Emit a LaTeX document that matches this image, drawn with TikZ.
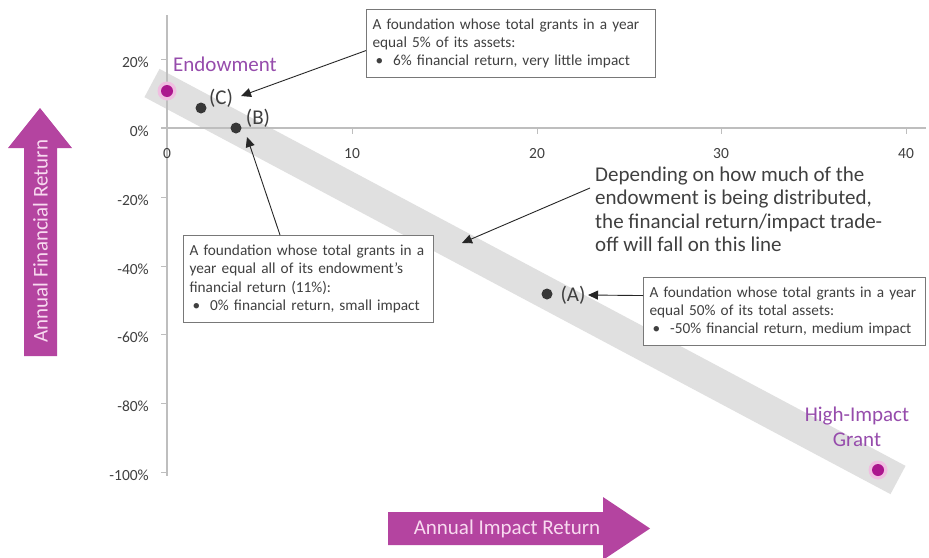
\documentclass[tikz,border=0pt]{standalone}
\usepackage{fontspec}
\setmainfont{Carlito}
\usetikzlibrary{arrows.meta}
\definecolor{mag}{RGB}{180,68,160}
\definecolor{pinktxt}{RGB}{248,218,240}
\definecolor{purp}{RGB}{150,76,172}
\definecolor{dotmag}{RGB}{172,22,142}
\definecolor{halo}{RGB}{240,190,225}
\definecolor{txt}{RGB}{64,64,64}
\definecolor{axisc}{RGB}{190,190,190}
\definecolor{bandc}{RGB}{224,224,224}
\definecolor{dotd}{RGB}{55,55,55}
\definecolor{boxc}{RGB}{120,120,120}
\begin{document}
\begin{tikzpicture}[x=1pt,y=-1pt,
  tick/.style={font=\fontsize{15.5}{18}\selectfont, text=txt, inner sep=0pt},
  infobox/.style={draw=boxc, line width=1.1pt, fill=white, text=txt, align=left, anchor=north west,
    font=\fontsize{15.3}{18.3}\selectfont, inner xsep=6pt, inner ysep=3pt},
  dot/.style={circle, fill=dotd, inner sep=0pt, minimum size=11pt},
  magdot/.style={circle, fill=dotmag, inner sep=0pt, minimum size=12pt},
  lbl/.style={font=\fontsize{21}{24}\selectfont, text=txt, inner sep=0pt},
  plbl/.style={font=\fontsize{21}{25}\selectfont, text=purp, inner sep=0pt, align=center},
  callout/.style={draw=black!85, line width=0.9pt, -{Triangle[length=10pt,width=9pt]}},
  bigarrow/.style={fill=mag},
  arrowtxt/.style={font=\fontsize{21}{24}\selectfont, text=pinktxt, inner sep=0pt},
]
\useasboundingbox[fill=white] (0,0) rectangle (929,557);

% band
\draw[bandc, line width=32pt] (152,83) -- (898,480);

% axes
\draw[axisc, line width=1.3pt] (167,15) -- (167,476);
\draw[axisc, line width=1.3pt] (161,128) -- (926,128);
\foreach \yy in {59,128,197,266,334,403,472} \draw[axisc, line width=1pt] (161,\yy) -- (167,\yy);
\foreach \xx in {352,537,721,906} \draw[axisc, line width=1pt] (\xx,128) -- (\xx,134);

% tick labels
\node[tick, anchor=east] (y20) at (149,62) {20\%};
\node[tick, anchor=east] (y0) at (149,131) {0\%};
\node[tick, anchor=east] (ym20) at (149,200) {-20\%};
\node[tick, anchor=east] (ym40) at (149,269) {-40\%};
\node[tick, anchor=east] (ym60) at (149,337) {-60\%};
\node[tick, anchor=east] (ym80) at (149,406) {-80\%};
\node[tick, anchor=east] (ym100) at (149,475) {-100\%};
\node[tick] (x0) at (167,154) {0};
\node[tick] (x10) at (352,154) {10};
\node[tick] (x20) at (537,154) {20};
\node[tick] (x30) at (721,154) {30};
\node[tick] (x40) at (906,154) {40};

% points
\fill[halo] (167,91) circle (9.5);
\node[magdot] (endow) at (167,91) {};
\node[dot] (C) at (201,108) {};
\node[dot] (B) at (236,128) {};
\node[dot] (A) at (547,294) {};
\fill[halo] (878,470) circle (9.5);
\node[magdot] (high) at (878,470) {};

% labels
\node[plbl, anchor=west] (endowlbl) at (173,64) {Endowment};
\node[plbl] (highlbl) at (857,427) {High-Impact\\Grant};
\node[lbl] (Clbl) at (221,98) {(C)};
\node[lbl] (Blbl) at (258,118) {(B)};
\node[lbl] (Albl) at (573,295) {(A)};

% boxes
\node[infobox, text width=277pt, minimum height=68pt] (topbox) at (366,9)
  {A foundation whose total grants in a year\\equal 5\% of its assets:\\\hspace*{3pt}\textbullet\hspace{10pt}6\% financial return, very little impact};
\node[infobox, text width=238pt, minimum height=87pt] (leftbox) at (183,235)
  {A foundation whose total grants in a\\year equal all of its endowment's\\financial return (11\%):\\\hspace*{3pt}\textbullet\hspace{10pt}0\% financial return, small impact};
\node[infobox, text width=270pt, minimum height=68pt] (rightbox) at (643,277)
  {A foundation whose total grants in a year\\equal 50\% of its total assets:\\\hspace*{3pt}\textbullet\hspace{10pt}-50\% financial return, medium impact};

\node[anchor=north west, text=txt, align=left, font=\fontsize{21}{23.2}\selectfont, inner sep=0pt] (note) at (595,167)
  {Depending on how much of the\\endowment is being distributed,\\the financial return/impact trade-\\off will fall on this line};

% callout arrows
\coordinate (topTip) at (241,96);
\coordinate (bTip) at (247,137);
\coordinate (aTip) at (588,295);
\coordinate (noteStart) at (590,188);
\coordinate (noteTip) at (462,243);
\draw[callout] ([yshift=-7pt]topbox.west) -- (topTip);
\draw[callout] ([xshift=97pt]leftbox.north west) -- (bTip);
\draw[callout] ([yshift=16pt]rightbox.west) -- (aTip);
\draw[callout] (noteStart) -- (noteTip);

% big magenta arrows
\fill[bigarrow] (40,108) -- (72,148) -- (57,148) -- (57,356) -- (24,356) -- (24,148) -- (8,148) -- cycle;
\node[arrowtxt, rotate=90] (vlabel) at (40.5,241) {Annual Financial Return};
\fill[bigarrow] (388,512) -- (603,512) -- (603,497) -- (650,528.5) -- (603,560) -- (603,545) -- (388,545) -- cycle;
\node[arrowtxt] (hlabel) at (507,528.5) {Annual Impact Return};
\end{tikzpicture}
\end{document}
